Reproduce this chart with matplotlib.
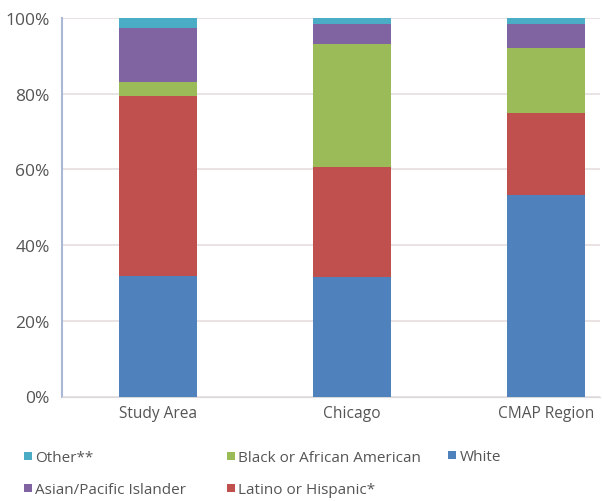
import matplotlib
matplotlib.use("Agg")
import matplotlib.pyplot as plt
from matplotlib.ticker import FuncFormatter
import numpy as np

categories = ["Study Area", "Chicago", "CMAP Region"]
white = [31.9, 31.7, 53.2]
latino = [47.5, 29.0, 21.7]
black = [3.7, 32.4, 17.2]
asian = [14.3, 5.4, 6.4]
other = [2.6, 1.5, 1.5]

series = [
    ("White", white, "#4F81BD"),
    ("Latino or Hispanic*", latino, "#C0504D"),
    ("Black or African American", black, "#9BBB59"),
    ("Asian/Pacific Islander", asian, "#8064A2"),
    ("Other**", other, "#4BACC6"),
]

plt.rcParams['font.family'] = ['Open Sans', 'DejaVu Sans']
W, H = 603, 502
fig = plt.figure(figsize=(W/100, H/100), dpi=100)
ax = fig.add_axes([62/W, 1 - 397.5/H, (600-62)/W, (397.5-19)/H])

x = np.arange(len(categories))
bottom = np.zeros(len(categories))
handles = {}
for name, vals, col in series:
    b = ax.bar(x, vals, width=0.4, bottom=bottom, color=col, zorder=3, label=name)
    handles[name] = b
    bottom += np.array(vals)

ax.set_xlim(-0.495, 2.278)
ax.set_ylim(0, 100)
ax.set_yticks([0, 20, 40, 60, 80, 100])
ax.yaxis.set_major_formatter(FuncFormatter(lambda v, p: f"{int(v)}%"))
ax.set_xticks(x)
ax.set_xticklabels(categories)
ax.grid(axis='y', color='#e6dede', linewidth=1.2, zorder=0)
for s in ['top', 'right']:
    ax.spines[s].set_visible(False)
ax.spines['left'].set_color('#a9b8d4')
ax.spines['left'].set_linewidth(1.5)
ax.spines['bottom'].set_color('#d9d9d9')
ax.tick_params(axis='both', length=0, colors='#555555')
ax.tick_params(axis='y', labelsize=12.5, pad=9)
ax.tick_params(axis='x', labelsize=11.2, pad=6)

# legend items: (name, marker left px, row centre px)
legend_layout = [
    ("Other**", 24, 459),
    ("Asian/Pacific Islander", 24, 491),
    ("Black or African American", 227, 459),
    ("Latino or Hispanic*", 227, 491),
    ("White", 448, 458),
]
for name, lx, ly in legend_layout:
    leg = fig.legend([handles[name]], [name], loc='center left',
                     bbox_to_anchor=(lx/W, 1 - ly/H), frameon=False,
                     fontsize=11, handlelength=0.5, handleheight=0.5,
                     handletextpad=0.25, borderpad=0, borderaxespad=0)
    for t in leg.get_texts():
        t.set_color('#555555')

fig.savefig("out.png", dpi=100)
